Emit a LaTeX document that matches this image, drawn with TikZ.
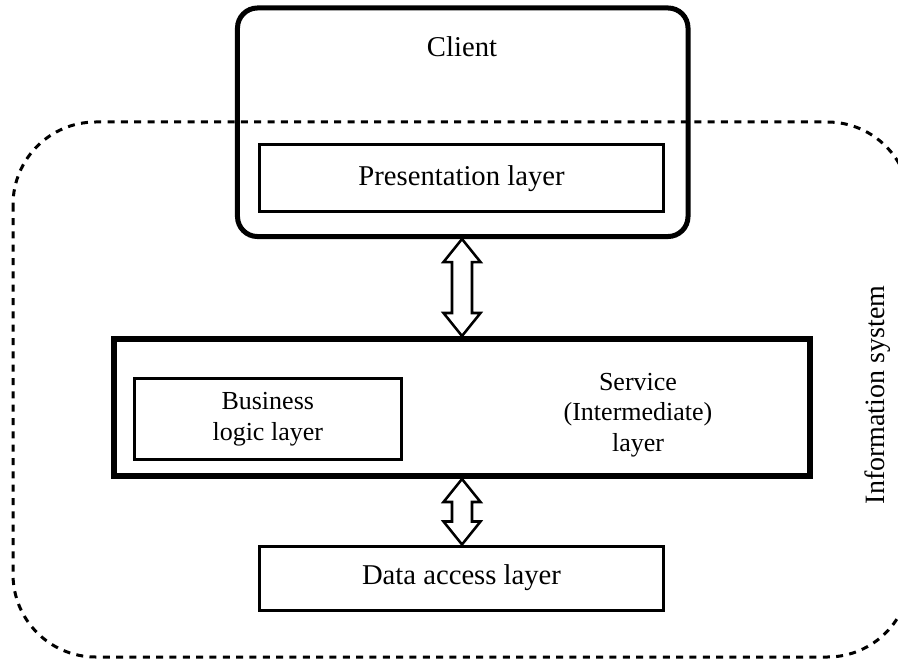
\documentclass[tikz,border=0pt]{standalone}
\usepackage{fontspec}
\setmainfont{Liberation Serif}
\usetikzlibrary{calc}
\begin{document}
\begin{tikzpicture}[x=0.75pt,y=-0.75pt,
  bigfont/.style={font=\fontsize{21.5pt}{23pt}\selectfont},
  midfont/.style={font=\fontsize{19.5pt}{23pt}\selectfont},
  infofont/.style={font=\fontsize{21pt}{23pt}\selectfont},
  thickbox/.style={draw,rectangle,line width=3.75pt,inner sep=0pt},
  thinbox/.style={draw,rectangle,line width=2.25pt,inner sep=0pt,bigfont},
  dblarrow/.style={draw,line width=1.9pt,line join=miter,fill=white},
  sysborder/.style={draw,line width=2.25pt,dash pattern=on 5.25pt off 4.75pt,rounded corners=62pt}]
\useasboundingbox (0,0) rectangle (898,659);
\clip (0,0) rectangle (898,659);
% information system border
\draw[sysborder] (13,122) rectangle (910,657);
% client
\node[thickbox,rounded corners=15pt,minimum width=337.9pt,minimum height=171.4pt] (client) at (462.75,122.25) {};
\node[bigfont] (clientlbl) at (462,47) {Client};
\node[thinbox,minimum width=302.3pt,minimum height=50.25pt] (pres) at (461.5,178.5) {Presentation layer};
% service
\node[thickbox,line width=4.5pt,minimum width=522pt,minimum height=102.75pt] (service) at (462,407.5) {};
\node[thinbox,midfont,minimum width=199.9pt,minimum height=61.1pt,align=center] (bl) at (267.75,419.25) {Business\\logic layer};
\node[midfont,align=center] (servlbl) at (638,415) {Service\\(Intermediate)\\layer};
% data access
\node[thinbox,minimum width=302.3pt,minimum height=48pt] (data) at (461.5,578) {Data access layer};
% info label
\node[infofont,rotate=90] (info) at (877.5,395) {Information system};
% arrows
\coordinate (a1) at (service.north |- client.south);
\coordinate (b1) at (service.north);
\draw[dblarrow] (a1) -- ++(18.5,23) -- ++(-8.5,0) -- ($(b1)+(10,-23)$) -- ++(8.5,0) -- (b1)
  -- ++(-18.5,-23) -- ++(8.5,0) -- ($(a1)+(-10,23)$) -- ++(-8.5,0) -- cycle;
\coordinate (a2) at (service.south);
\coordinate (b2) at (service.south |- data.north);
\draw[dblarrow] (a2) -- ++(18.5,23) -- ++(-8.5,0) -- ($(b2)+(10,-23)$) -- ++(8.5,0) -- (b2)
  -- ++(-18.5,-23) -- ++(8.5,0) -- ($(a2)+(-10,23)$) -- ++(-8.5,0) -- cycle;
\end{tikzpicture}
\end{document}
